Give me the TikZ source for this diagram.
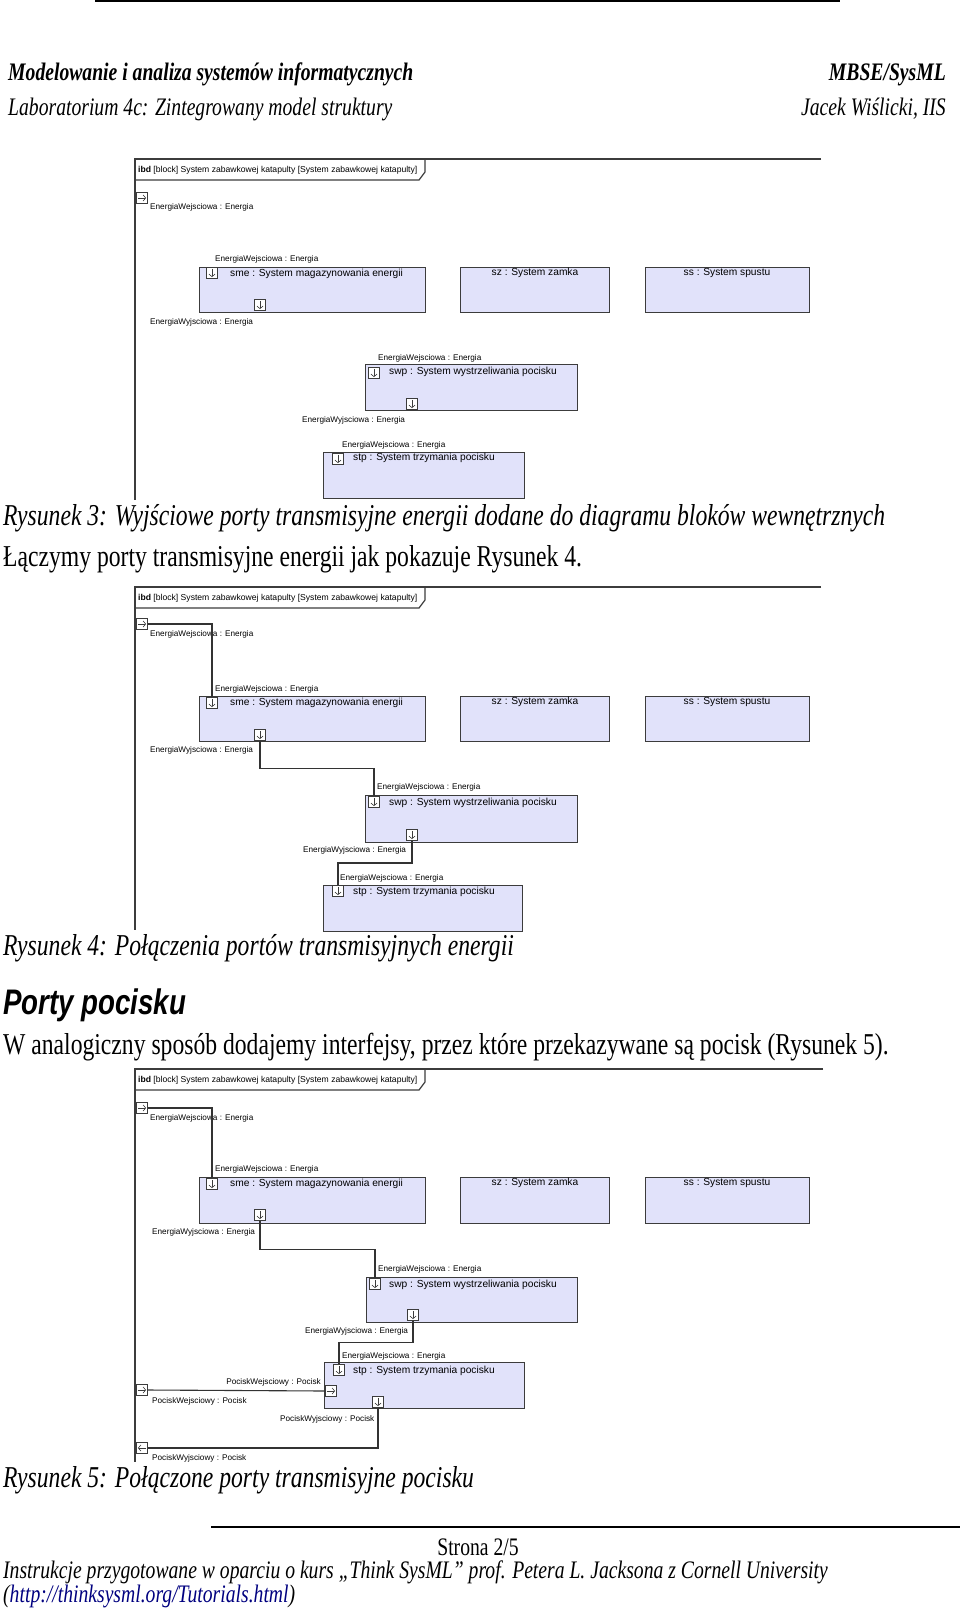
\documentclass[tikz,border=0pt]{standalone}
\usepackage{fontspec}
\setmainfont{Liberation Serif}[FakeStretch=0.78]
\newfontfamily\headfont{Liberation Sans}[FakeStretch=0.78]
\newfontfamily\diafont{Liberation Sans}
\usetikzlibrary{arrows.meta,calc}

\definecolor{blockfill}{RGB}{225,226,250}
\definecolor{framegray}{RGB}{60,60,60}
\definecolor{linkblue}{RGB}{0,0,128}

\tikzset{
	body/.style={anchor=base west, inner sep=0pt, font=\fontsize{30.3}{36}\selectfont},
	caption/.style={anchor=base west, inner sep=0pt, font=\fontsize{30.3}{36}\selectfont\itshape},
	headtext/.style={inner sep=0pt, font=\fontsize{25.2}{30}\selectfont\itshape},
	foottext/.style={inner sep=0pt, font=\fontsize{25.2}{28}\selectfont},
	ibdline/.style={draw=framegray, line width=1.2pt},
	tabtext/.style={anchor=west, inner sep=0pt, font=\diafont\fontsize{8.6}{10}\selectfont},
	block/.style={draw=framegray, fill=blockfill, line width=1.1pt, anchor=north west, minimum height=45pt, inner sep=0pt},
	blocktitle/.style={inner sep=0pt, font=\diafont\fontsize{10.2}{12}\selectfont},
	plabel/.style={inner sep=0pt, anchor=west, font=\diafont\fontsize{8.2}{10}\selectfont},
	port/.style={draw=framegray, fill=white, line width=.8pt, minimum size=10.5pt, inner sep=0pt},
	portdown/.style={port, path picture={\draw[line width=.6pt, -{Straight Barb[length=2.5pt,width=6pt]}] ([yshift=-1.2pt]path picture bounding box.north) -- ([yshift=1.2pt]path picture bounding box.south);}},
	portright/.style={port, path picture={\draw[line width=.6pt, -{Straight Barb[length=2.5pt,width=6pt]}] ([xshift=1.2pt]path picture bounding box.west) -- ([xshift=-1.2pt]path picture bounding box.east);}},
	portleft/.style={port, path picture={\draw[line width=.6pt, -{Straight Barb[length=2.5pt,width=6pt]}] ([xshift=-1.2pt]path picture bounding box.east) -- ([xshift=1.2pt]path picture bounding box.west);}},
	wire/.style={draw=black!80, line width=1.1pt},
}

\begin{document}
\begin{tikzpicture}[x=1pt, y=-1pt]
	\useasboundingbox[fill=white] (0,0) rectangle (960,1609);

	% naglowek
	\draw[line width=2pt] (95,1) -- (840,1);
	\node[headtext, anchor=base west, font=\fontsize{25.2}{30}\selectfont\bfseries\itshape] (kurs) at (8,80) {Modelowanie i analiza systemów informatycznych};
	\node[headtext, anchor=base east, font=\fontsize{25.2}{30}\selectfont\bfseries\itshape] (mbse) at (946,80) {MBSE/SysML};
	\node[headtext, anchor=base west] (lab) at (8,115) {Laboratorium 4c: Zintegrowany model struktury};
	\node[headtext, anchor=base east] (autor) at (946,115) {Jacek Wiślicki, IIS};

	% Rysunek 3
	\draw[ibdline] (821,159) -- (135,159) -- (135,500);
	\draw[ibdline] (135,180) -- (419,180) -- (425,172) -- (425,159);
	\node[tabtext] (tab1) at (138,170) {\textbf{ibd} [block] System zabawkowej katapulty [System zabawkowej katapulty]};
	\node[portright] (ein1) at (142,198) {};
	\node[plabel] (einl1) at (150,207) {EnergiaWejsciowa : Energia};

	\node[block, minimum width=226pt] (sme1) at (199,267) {};
	\node[blocktitle, anchor=west] (smet1) at (230,274) {sme : System magazynowania energii};
	\node[portdown] (smein1) at (212,273) {};
	\node[plabel] (smeinl1) at (215,259) {EnergiaWejsciowa : Energia};
	\node[portdown] (smeout1) at (260,305) {};
	\node[plabel] (smeoutl1) at (150,322) {EnergiaWyjsciowa : Energia};
	\node[block, minimum width=149pt] (sz1) at (460,267) {};
	\node[blocktitle] (szt1) at (535,273) {sz : System zamka};
	\node[block, minimum width=164pt] (ss1) at (645,267) {};
	\node[blocktitle] (sst1) at (727,273) {ss : System spustu};

	\node[block, minimum width=212pt, minimum height=46pt] (swp1) at (365,364) {};
	\node[blocktitle, anchor=west] (swpt1) at (389,372) {swp : System wystrzeliwania pocisku};
	\node[portdown] (swpin1) at (374,373) {};
	\node[plabel] (swpinl1) at (378,358) {EnergiaWejsciowa : Energia};
	\node[portdown] (swpout1) at (412,404) {};
	\node[plabel] (swpoutl1) at (302,420) {EnergiaWyjsciowa : Energia};

	\node[block, minimum width=201pt, minimum height=46pt] (stp1) at (323,452) {};
	\node[blocktitle, anchor=west] (stpt1) at (353,458) {stp : System trzymania pocisku};
	\node[portdown] (stpin1) at (338,459) {};
	\node[plabel] (stpinl1) at (342,445) {EnergiaWejsciowa : Energia};

	\node[caption] (rys3) at (3,525) {Rysunek 3: Wyjściowe porty transmisyjne energii dodane do diagramu bloków wewnętrznych};
	\node[body] (tekst1) at (3,566) {Łączymy porty transmisyjne energii jak pokazuje Rysunek 4.};

	% Rysunek 4
	\draw[ibdline] (821,587) -- (135,587) -- (135,930);
	\draw[ibdline] (135,608) -- (419,608) -- (425,600) -- (425,587);
	\node[tabtext] (tab2) at (138,598) {\textbf{ibd} [block] System zabawkowej katapulty [System zabawkowej katapulty]};
	\node[portright] (ein2) at (142,624) {};
	\node[plabel] (einl2) at (150,634) {EnergiaWejsciowa : Energia};

	\node[block, minimum width=226pt] (sme2) at (199,696) {};
	\node[blocktitle, anchor=west] (smet2) at (230,703) {sme : System magazynowania energii};
	\node[portdown] (smein2) at (212,703) {};
	\node[plabel] (smeinl2) at (215,689) {EnergiaWejsciowa : Energia};
	\node[portdown] (smeout2) at (260,735) {};
	\node[plabel] (smeoutl2) at (150,750) {EnergiaWyjsciowa : Energia};
	\node[block, minimum width=149pt] (sz2) at (460,696) {};
	\node[blocktitle] (szt2) at (535,702) {sz : System zamka};
	\node[block, minimum width=164pt] (ss2) at (645,696) {};
	\node[blocktitle] (sst2) at (727,702) {ss : System spustu};

	\node[block, minimum width=212pt, minimum height=47pt] (swp2) at (365,795) {};
	\node[blocktitle, anchor=west] (swpt2) at (389,803) {swp : System wystrzeliwania pocisku};
	\node[portdown] (swpin2) at (374,802) {};
	\node[plabel] (swpinl2) at (377,787) {EnergiaWejsciowa : Energia};
	\node[portdown] (swpout2) at (412,835) {};
	\node[plabel] (swpoutl2) at (303,850) {EnergiaWyjsciowa : Energia};

	\node[block, minimum width=199pt, minimum height=46pt] (stp2) at (323,885) {};
	\node[blocktitle, anchor=west] (stpt2) at (353,892) {stp : System trzymania pocisku};
	\node[portdown] (stpin2) at (338,891) {};
	\node[plabel] (stpinl2) at (340,878) {EnergiaWejsciowa : Energia};

	\draw[wire] (ein2.east) -| (smein2.north);
	\draw[wire] (smeout2.south) |- ($(smeout2.south)!.5!(swpin2.north)$) -| (swpin2.north);
	\draw[wire] (swpout2.south) |- ($(swpout2.south)!.5!(stpin2.north)$) -| (stpin2.north);

	\node[caption] (rys4) at (3,955) {Rysunek 4: Połączenia portów transmisyjnych energii};
	\node[anchor=base west, inner sep=0pt, font=\headfont\fontsize{35.5}{40}\selectfont\bfseries\itshape] (porty) at (3,1014) {Porty pocisku};
	\node[body] (tekst2) at (3,1054) {W analogiczny sposób dodajemy interfejsy, przez które przekazywane są pocisk (Rysunek 5).};

	% Rysunek 5
	\draw[ibdline] (823,1069) -- (135,1069) -- (135,1462);
	\draw[ibdline] (135,1090) -- (419,1090) -- (425,1082) -- (425,1069);
	\node[tabtext] (tab3) at (138,1080) {\textbf{ibd} [block] System zabawkowej katapulty [System zabawkowej katapulty]};
	\node[portright] (ein3) at (142,1108) {};
	\node[plabel] (einl3) at (150,1118) {EnergiaWejsciowa : Energia};

	\node[block, minimum width=226pt, minimum height=46pt] (sme3) at (199,1177) {};
	\node[blocktitle, anchor=west] (smet3) at (230,1184) {sme : System magazynowania energii};
	\node[portdown] (smein3) at (212,1184) {};
	\node[plabel] (smeinl3) at (215,1169) {EnergiaWejsciowa : Energia};
	\node[portdown] (smeout3) at (260,1215) {};
	\node[plabel] (smeoutl3) at (152,1232) {EnergiaWyjsciowa : Energia};
	\node[block, minimum width=149pt, minimum height=46pt] (sz3) at (460,1177) {};
	\node[blocktitle] (szt3) at (535,1183) {sz : System zamka};
	\node[block, minimum width=164pt, minimum height=46pt] (ss3) at (645,1177) {};
	\node[blocktitle] (sst3) at (727,1183) {ss : System spustu};

	\node[block, minimum width=211pt] (swp3) at (366,1277) {};
	\node[blocktitle, anchor=west] (swpt3) at (389,1285) {swp : System wystrzeliwania pocisku};
	\node[portdown] (swpin3) at (375,1284) {};
	\node[plabel] (swpinl3) at (378,1269) {EnergiaWejsciowa : Energia};
	\node[portdown] (swpout3) at (413,1315) {};
	\node[plabel] (swpoutl3) at (305,1331) {EnergiaWyjsciowa : Energia};

	\node[block, minimum width=200pt, minimum height=46pt] (stp3) at (324,1362) {};
	\node[blocktitle, anchor=west] (stpt3) at (353,1371) {stp : System trzymania pocisku};
	\node[portdown] (stpin3) at (339,1370) {};
	\node[plabel] (stpinl3) at (342,1356) {EnergiaWejsciowa : Energia};
	\node[portright] (stppwe3) at (331,1391) {};
	\node[plabel, anchor=east] (stppwel3) at (321,1382) {PociskWejsciowy : Pocisk};
	\node[portdown] (stppwy3) at (378,1402) {};
	\node[plabel] (stppwyl3) at (280,1419) {PociskWyjsciowy : Pocisk};

	\node[portright] (pwe3) at (142,1390) {};
	\node[plabel] (pwel3) at (152,1401) {PociskWejsciowy : Pocisk};
	\node[portleft] (pwy3) at (142,1448) {};
	\node[plabel] (pwyl3) at (152,1458) {PociskWyjsciowy : Pocisk};

	\draw[wire] (ein3.east) -| (smein3.north);
	\draw[wire] (smeout3.south) |- ($(smeout3.south)!.5!(swpin3.north)$) -| (swpin3.north);
	\draw[wire] (swpout3.south) |- ($(swpout3.south)!.5!(stpin3.north)$) -| (stpin3.north);
	\draw[wire] (pwe3.east) -- (stppwe3.west);
	\draw[wire] (stppwy3.south) |- (pwy3.east);

	\node[caption] (rys5) at (3,1487) {Rysunek 5: Połączone porty transmisyjne pocisku};

	% stopka
	\draw[line width=2.5pt] (211,1527) -- (960,1527);
	\node[foottext, anchor=base] (strona) at (478,1555) {Strona 2/5};
	\node[foottext, anchor=base west, font=\fontsize{25.2}{28}\selectfont\itshape] (zrodlo) at (3,1578) {Instrukcje przygotowane w oparciu o kurs „Think SysML” prof. Petera L. Jacksona z Cornell University};
	\node[foottext, anchor=base west, font=\fontsize{25.2}{28}\selectfont\itshape] (link) at (3,1602) {(\textcolor{linkblue}{\underline{http://thinksysml.org/Tutorials.html}})};
\end{tikzpicture}
\end{document}
